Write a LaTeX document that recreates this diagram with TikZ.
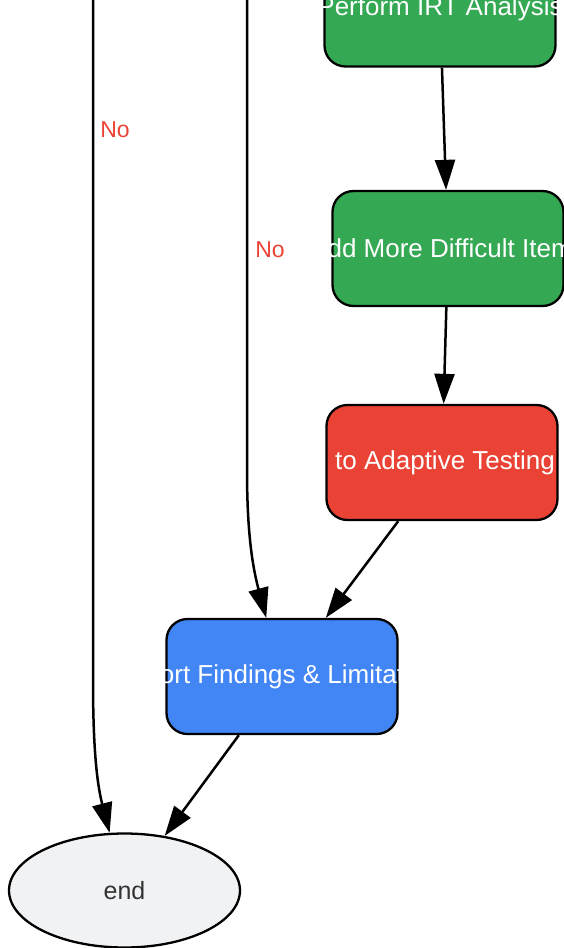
\documentclass[tikz,border=0pt]{standalone}
\usepackage{fontspec}
\setmainfont{Liberation Sans}
\usetikzlibrary{arrows.meta, shapes.geometric, positioning}

\definecolor{flowgreen}{HTML}{34A853}
\definecolor{flowred}{HTML}{EA4335}
\definecolor{flowblue}{HTML}{4285F4}
\definecolor{endgray}{HTML}{F1F2F4}
\definecolor{endtext}{HTML}{333333}

\newcommand{\overflowtext}[1]{\makebox[0pt]{#1}}

\begin{document}
\begin{tikzpicture}[x=1pt,y=-1pt,>={Triangle[length=30pt,width=20pt]},line width=2.3pt,
      font=\fontsize{26}{31}\selectfont,
      flow node/.style={draw,rounded corners=21pt,text=white,minimum width=231pt,minimum height=115pt,inner sep=0pt},
      end node/.style={ellipse,draw,fill=endgray,text=endtext,minimum width=231pt,minimum height=114pt,font=\fontsize{25}{30}\selectfont},
      no label/.style={text=flowred,font=\fontsize{23}{27}\selectfont},
      flow edge/.style={draw,->,line width=2.5pt}]

      \clip (0,0) rectangle (564,948);

      \node[flow node,fill=flowgreen] (IRT) at (440,9) {\overflowtext{\raisebox{-4pt}{Perform IRT Analysis}}};
      \node[flow node,fill=flowgreen] (Add) at (448,248.5) {\overflowtext{Add More Difficult Items}};
      \node[flow node,fill=flowred] (Switch) at (442,462.5) {\overflowtext{\hspace*{6pt}to Adaptive Testing}};
      \node[flow node,fill=flowblue] (Report) at (282,676.5) {\overflowtext{Report Findings \& Limitations}};
      \node[end node] (End) at (124.5,890.5) {end};

      \coordinate (NoA) at (93,-20);
      \coordinate (NoB) at (247,-20);
      \node[no label] (LabelA) at (115,130) {No};
      \node[no label] (LabelB) at (270,250) {No};

      \foreach \s/\t in {IRT/Add, Add/Switch, Switch/Report, Report/End} {
          \path[flow edge] (\s) -- (\t);}

      \path[flow edge] (NoA) -- ++(0,700) .. controls +(0,60) and (96,780) .. (End);
      \path[flow edge] (NoB) -- ++(0,490) .. controls +(0,60) and (252,565) .. (Report);
      \end{tikzpicture}
\end{document}
